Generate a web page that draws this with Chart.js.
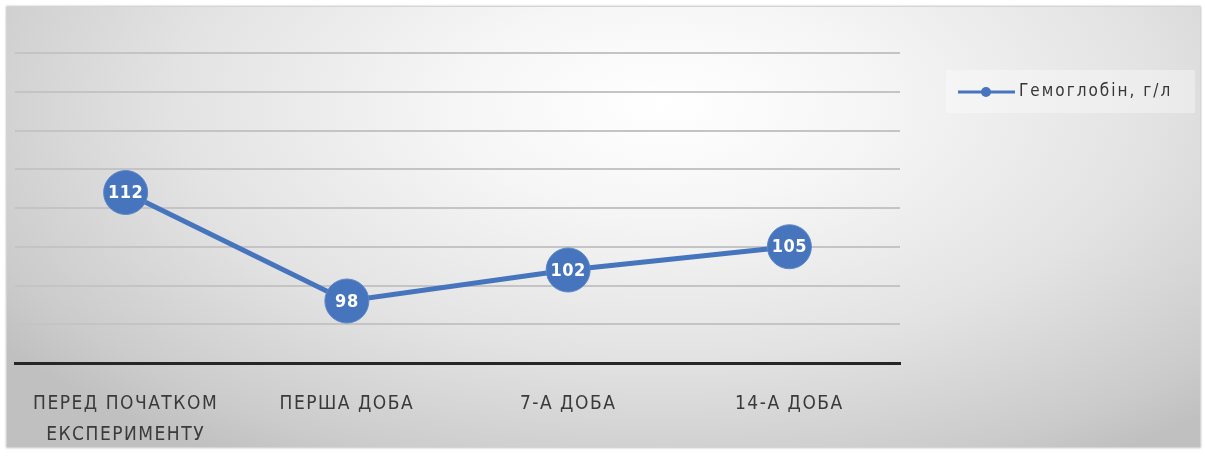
<!DOCTYPE html>
<html>
<head>
<meta charset="utf-8">
<script src="https://cdn.jsdelivr.net/npm/chart.js@4/dist/chart.umd.min.js"></script>
<style>
  html, body { margin: 0; padding: 0; background: #ffffff; }
  #frame {
    position: absolute; left: 7px; top: 7px; width: 1193px; height: 440px;
    background: radial-gradient(ellipse 68% 95% at 55% 22%, #ffffff 0%, #f6f6f6 25%, #e3e3e3 60%, #cbcbcb 90%, #c0c0c0 100%);
    box-shadow: 0 0 2px 1px rgba(0,0,0,0.25);
  }
  #wrap { position: absolute; left: 0; top: 0; width: 1205px; height: 457px; }
</style>
</head>
<body>
<div id="frame"></div>
<div id="wrap"><canvas id="c" width="1205" height="457"></canvas></div>
<script>
const categories = [["ПЕРЕД ПОЧАТКОМ", "ЕКСПЕРИМЕНТУ"], "ПЕРША ДОБА", "7-А ДОБА", "14-А ДОБА"];
const hemoglobin = [112, 98, 102, 105];
const seriesLabel = "Гемоглобін, г/л";
const yMin = 90, yMax = 130, yStep = 5;

const blue = '#4674bd';
const condensed = '"DejaVu Sans Condensed", "Liberation Sans", sans-serif';

const spacing = {
  id: 'spacing',
  beforeDraw(chart) { chart.ctx.letterSpacing = '1.5px'; },
  afterDatasetsDraw(chart) { chart.ctx.letterSpacing = '0px'; }
};

const pointLabels = {
  id: 'pointLabels',
  afterDatasetsDraw(chart) {
    const ctx = chart.ctx;
    const meta = chart.getDatasetMeta(0);
    ctx.save();
    ctx.letterSpacing = '0.5px';
    ctx.fillStyle = '#ffffff';
    ctx.font = 'bold 18px ' + condensed;
    ctx.textAlign = 'center';
    ctx.textBaseline = 'middle';
    meta.data.forEach((pt, i) => {
      ctx.fillText(String(chart.data.datasets[0].data[i]), pt.x, pt.y + 1);
    });
    ctx.restore();
  }
};

const customLegend = {
  id: 'customLegend',
  afterDraw(chart) {
    const ctx = chart.ctx;
    const ds = chart.data.datasets[0];
    ctx.save();
    ctx.fillStyle = 'rgba(255,255,255,0.35)';
    ctx.fillRect(946, 70, 249, 43);
    ctx.strokeStyle = ds.borderColor;
    ctx.lineWidth = 3;
    ctx.beginPath();
    ctx.moveTo(958, 92); ctx.lineTo(1015, 92);
    ctx.stroke();
    ctx.fillStyle = ds.backgroundColor;
    ctx.beginPath();
    ctx.arc(986, 92, 5, 0, Math.PI * 2);
    ctx.fill();
    ctx.fillStyle = '#363636';
    ctx.font = '17px ' + condensed;
    ctx.letterSpacing = '2px';
    ctx.textAlign = 'left';
    ctx.textBaseline = 'middle';
    ctx.fillText(ds.label, 1019, 92);
    ctx.restore();
  }
};

new Chart(document.getElementById('c'), {
  type: 'line',
  data: {
    labels: categories,
    datasets: [{
      label: seriesLabel,
      data: hemoglobin,
      borderColor: blue,
      backgroundColor: blue,
      borderWidth: 5,
      pointRadius: 22,
      pointHoverRadius: 22,
      pointBackgroundColor: blue,
      pointBorderColor: '#5b86c8',
      pointBorderWidth: 1,
      tension: 0,
      clip: false
    }]
  },
  options: {
    responsive: false,
    animation: false,
    events: [],
    layout: { autoPadding: false, padding: { left: 15, right: 305, top: 53, bottom: 0 } },
    plugins: { legend: { display: false }, tooltip: { enabled: false } },
    scales: {
      x: {
        offset: true,
        grid: { display: false },
        border: { display: true, color: '#262626', width: 3 },
        ticks: {
          color: '#3a3a3a',
          font: { family: condensed, size: 19, lineHeight: 1.63 },
          padding: 18,
          maxRotation: 0,
          autoSkip: false
        },
        afterFit(s) { s.height = 94; s.paddingLeft = 0; s.paddingRight = 0; }
      },
      y: {
        min: yMin, max: yMax,
        ticks: { display: false, stepSize: yStep },
        border: { display: false },
        grid: {
          color: (c) => (c.tick && c.tick.value === yMin) ? 'rgba(0,0,0,0)' : '#c4c4c4',
          lineWidth: 2,
          drawTicks: false
        },
        afterFit(s) { s.width = 0; }
      }
    }
  },
  plugins: [spacing, pointLabels, customLegend]
});
</script>
</body>
</html>
